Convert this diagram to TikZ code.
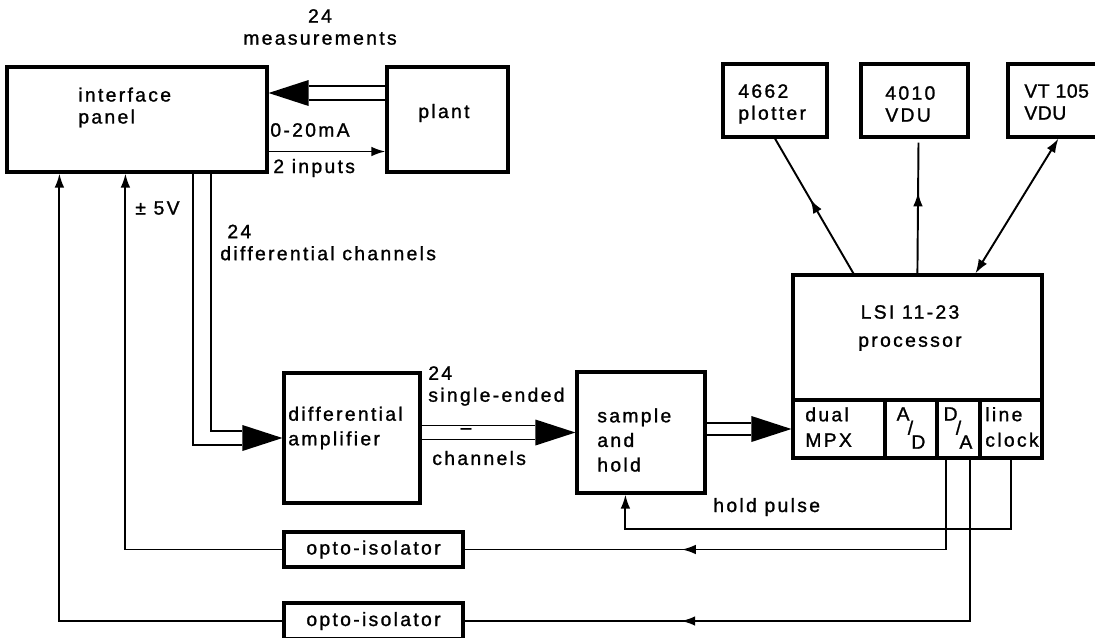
\documentclass[tikz,border=0pt]{standalone}
\usepackage{fontspec}
\setmainfont{Liberation Sans}[LetterSpace=12, FakeBold=1.2]
\usepackage{tikz}
\usetikzlibrary{calc}
\usetikzlibrary{fit}
\usetikzlibrary{arrows.meta}
\usetikzlibrary{decorations.markings}
\tikzset{
  blk/.style={draw, line width=1.8pt, inner sep=0pt},
  sig/.style={line width=1.1pt},
  tip/.style={-{Latex[length=8pt,width=5.5pt]}},
  lbl/.style={inner sep=0pt, align=left, font=\fontsize{11}{12.5}\selectfont},
  midtip/.style={postaction={decorate}, decoration={markings,
    mark=at position #1 with {\arrow{Latex[length=8pt,width=5.5pt]}}}}
}
\newcommand{\blk}[5]{\node[blk, fit={(#2,#3) (#4,#5)}] (#1) {};}
\newcommand{\bushead}[2]{\fill (#1) -- ++(-40*#2,-13) -- ++(0,26) -- cycle;}

\begin{document}
\begin{tikzpicture}[x=0.2mm, y=-0.2mm]
        \useasboundingbox (0,0) rectangle (1095,637);
        % boxes
        \blk{panel}{7}{67}{267}{172}
        \blk{plant}{387}{67}{508}{172}
        \blk{plotter}{723}{64}{827}{137}
        \blk{vdua}{861}{64}{968}{137}
        \blk{vdub}{1008}{64}{1100}{137}
        \blk{cpu}{793}{275}{1042}{458}
        \blk{mpx}{793}{400}{885}{458}
        \blk{adc}{885}{400}{937}{458}
        \blk{dac}{937}{400}{980}{458}
        \blk{clk}{980}{400}{1042}{458}
        \blk{diff}{284}{373}{420}{503}
        \blk{sh}{577}{372}{705}{493}
        \blk{optoa}{284}{532}{463}{567}
        \blk{optob}{284}{603}{463}{639}
        % box texts
        \node[lbl, anchor=west] (panel-t) at (78,107.5) {interface\\panel};
        \node[lbl, anchor=west] (plant-t) at (418,113) {plant};
        \node[lbl, anchor=west] (plotter-t) at (738,104) {4662\\plotter};
        \node[lbl, anchor=west] (vdua-t) at (885,104) {4010\\VDU};
        \node[lbl, anchor=west] (vdub-t) at (1024,102) {\addfontfeatures{LetterSpace=3}VT 105\\\addfontfeatures{LetterSpace=3}VDU};
        \node[lbl, align=center, font=\fontsize{11}{16}\selectfont] (cpu-t) at (910,328) {LSI 11-23\\processor};
        \node[lbl, anchor=west, font=\fontsize{11}{14.5}\selectfont] (mpx-t) at (805,427) {dual\\MPX};
        \node[lbl] (adc-t) at (911,428) {\raisebox{8pt}{A}\kern-1pt/\kern-1pt\raisebox{-8pt}{D}};
        \node[lbl] (dac-t) at (958,428) {\raisebox{8pt}{D}\kern-1pt/\kern-1pt\raisebox{-8pt}{A}};
        \node[lbl, anchor=west, font=\fontsize{11}{14.5}\selectfont] (clk-t) at (985,427) {line\\clock};
        \node[lbl, anchor=west, font=\fontsize{11}{14}\selectfont] (diff-t) at (288,428) {differential\\amplifier};
        \node[lbl, anchor=west, font=\fontsize{11}{14}\selectfont] (sh-t) at (597,440) {sample\\and\\hold};
        \node[lbl] (optoa-t) at (optoa) {opto-isolator};
        \node[lbl] (optob-t) at (optob) {opto-isolator};
        % signal labels
        \node[lbl, align=center] (meas-t) at (320,27) {24\\measurements};
        \node[lbl, anchor=west] (ma-t) at (270,130) {0-20mA};
        \node[lbl, anchor=west] (inp-t) at (273,168) {2 inputs};
        \node[lbl, anchor=west] (pm-t) at (135,208) {± 5V};
        \node[lbl, anchor=west] (dch-t) at (220,242.5) {\hspace{4pt}24\\differential channels};
        \node[lbl, anchor=west] (se-t) at (428,386) {24\\single-ended};
        \node[lbl] (dash-t) at (466,431) {–};
        \node[lbl, anchor=west] (ch-t) at (432,458) {channels};
        \node[lbl, anchor=west] (hp-t) at (713,507) {hold pulse};
        % plant to panel bus
        \coordinate (m) at ($(panel.east)+(0,-26.5)$);
        \draw[sig] ($(m)+(40,-7)$) -- ($(m -| plant.west)+(0,-7)$);
        \draw[sig] ($(m)+(40,7)$) -- ($(m -| plant.west)+(0,7)$);
        \bushead{m}{-1}
        \draw[sig, tip] ($(panel.east)+(0,32)$) -- ($(plant.west)+(0,32)$);
        % panel to differential amplifier bus
        \coordinate (dc1) at ($(panel.south west)+(188,0)$);
        \coordinate (dc2) at ($(panel.south west)+(206,0)$);
        \draw[sig] (dc1) |- ($(diff.west)+(-40,7)$);
        \draw[sig] (dc2) |- ($(diff.west)+(-40,-7)$);
        \bushead{diff.west}{1}
        % amplifier to sample and hold to multiplexer
        \draw[sig] ($(diff.east |- sh.west)+(0,-7)$) -- ($(sh.west)+(-40,-7)$);
        \draw[sig] ($(diff.east |- sh.west)+(0,7)$) -- ($(sh.west)+(-40,7)$);
        \bushead{sh.west}{1}
        \draw[sig] ($(sh.east |- mpx.west)+(0,-6)$) -- ($(mpx.west)+(-40,-6)$);
        \draw[sig] ($(sh.east |- mpx.west)+(0,6)$) -- ($(mpx.west)+(-40,6)$);
        \bushead{mpx.west}{1}
        % processor to terminals
        \coordinate (cpuA) at ($(cpu.north west)+(62,0)$);
        \coordinate (cpuB) at ($(cpu.north west)+(126,0)$);
        \coordinate (cpuC) at ($(cpu.north west)+(184,0)$);
        \draw[sig, midtip=0.55] (cpuA) -- (plotter.south);
        \draw[sig, midtip=0.62] (cpuB) -- ($(vdua.south)+(4,4)$);
        \draw[sig, {Latex[length=8pt,width=5.5pt]}-{Latex[length=8pt,width=5.5pt]}] (cpuC) -- ($(vdub.south west)+(52,0)$);
        % hold pulse
        \coordinate (hp) at ($(sh.south west)+(50,34)$);
        \draw[sig, tip] (clk.south) |- (hp) -- (hp |- sh.south);
        % D/A outputs through the isolators
        \coordinate (fbA) at ($(panel.south west)+(120,0)$);
        \coordinate (fbB) at ($(panel.south west)+(54,0)$);
        \draw[sig, midtip=0.62] ($(dac.south west)+(11,0)$) |- (optoa.east);
        \draw[sig, midtip=0.675] ($(dac.south east)+(-12,0)$) |- (optob.east);
        \draw[sig, tip] (optoa.west) -| (fbA);
        \draw[sig, tip] (optob.west) -| (fbB);
    \end{tikzpicture}
\end{document}
